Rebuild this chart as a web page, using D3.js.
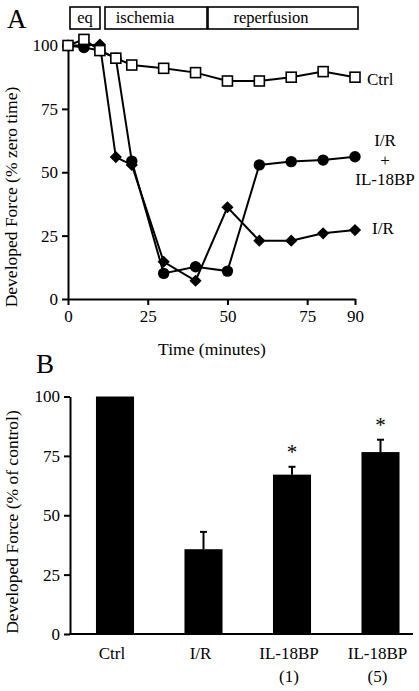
<!DOCTYPE html>
<html><head><meta charset="utf-8">
<script src="https://cdn.jsdelivr.net/npm/d3@7"></script>
<style>body{margin:0;background:#fff}svg{display:block}text{font-family:"Liberation Serif","Times New Roman",serif;fill:#000}</style>
</head><body><svg id="c" width="419" height="691"></svg>
<script>
// ---- Panel A data ----
const times = [0, 5, 10, 15, 20, 30, 40, 50, 60, 70, 80, 90];
const ctrl = [100, 102.4, 98, 95, 92.3, 91, 89.3, 86, 86, 87.5, 89.7, 87.5];
const irBP = [100, 99.2, 98, 95, 54.4, 10.1, 12.7, 11, 52.9, 54.2, 54.8, 56.1];
const ir = [100, 100, 100.4, 56, 52.9, 14.7, 7.2, 36.2, 23, 23, 25.9, 27.2];
const xTicksA = [0, 25, 50, 75, 90];
const yTicks = [0, 25, 50, 75, 100];
const phases = ["eq", "ischemia", "reperfusion"];

// ---- Panel B data ----
const groups = ["Ctrl", "I/R", "IL-18BP (1)", "IL-18BP (5)"];
const groupLines = [["Ctrl"], ["I/R"], ["IL-18BP", "(1)"], ["IL-18BP", "(5)"]];
const means = [100, 35.7, 67.1, 76.6];
const errs = [0, 7.3, 3.3, 5.2];
const signif = [false, false, true, true];

const svg = d3.select("#c");
const FS = 17;

function styleAxis(g) {
  g.select(".domain").attr("stroke-width", 2);
  g.selectAll(".tick line").attr("stroke-width", 2);
  g.selectAll("text").attr("font-size", FS).attr("font-family", "Liberation Serif");
}

// ===== Panel A =====
const xA = d3.scaleLinear().domain([0, 90]).range([68, 355]);
const yA = d3.scaleLinear().domain([0, 100]).range([299, 45.5]);
const gA = svg.append("g");

gA.append("g").attr("transform", "translate(0,299)")
  .call(d3.axisBottom(xA).tickValues(xTicksA).tickSize(6).tickPadding(5).tickSizeOuter(0))
  .call(styleAxis);
gA.append("g").attr("transform", "translate(68,0)")
  .call(d3.axisLeft(yA).tickValues(yTicks).tickSize(6).tickPadding(4).tickSizeOuter(0))
  .call(styleAxis);

gA.append("text").attr("x", 212).attr("y", 355).attr("text-anchor", "middle").attr("font-size", 17.5).text("Time (minutes)");
gA.append("text").attr("transform", "translate(17,197) rotate(-90)").attr("text-anchor", "middle").attr("font-size", 17.5).text("Developed Force (% zero time)");
gA.append("text").attr("x", 7).attr("y", 28).attr("font-size", 27).text("A");

// header boxes
const boxes = [[70, 100], [105, 207], [208, 358]];
const boxText = [85, 145, 271];
phases.forEach((p, i) => {
  gA.append("rect").attr("x", boxes[i][0]).attr("y", 7).attr("width", boxes[i][1] - boxes[i][0]).attr("height", 22)
    .attr("fill", "#fff").attr("stroke", "#000").attr("stroke-width", 1.6);
  gA.append("text").attr("x", boxText[i]).attr("y", 23).attr("text-anchor", "middle").attr("font-size", 16.5).text(p);
});

const line = d3.line().x((d, i) => xA(times[i])).y(d => yA(d));
[ir, irBP, ctrl].forEach(s => gA.append("path").attr("d", line(s)).attr("fill", "none").attr("stroke", "#000").attr("stroke-width", 2));

gA.selectAll(".dia").data(ir).join("path").attr("class", "dia")
  .attr("d", d3.symbol(d3.symbolDiamond2, 95)())
  .attr("transform", (d, i) => `translate(${xA(times[i])},${yA(d)})`).attr("fill", "#000");
gA.selectAll(".cir").data(irBP).join("circle").attr("class", "cir")
  .attr("cx", (d, i) => xA(times[i])).attr("cy", d => yA(d)).attr("r", 5.7).attr("fill", "#000");
gA.selectAll(".sq").data(ctrl).join("rect").attr("class", "sq")
  .attr("x", (d, i) => xA(times[i]) - 5).attr("y", d => yA(d) - 5).attr("width", 10).attr("height", 10)
  .attr("fill", "#fff").attr("stroke", "#000").attr("stroke-width", 1.6);

gA.append("text").attr("x", 367).attr("y", 85).attr("font-size", FS).text("Ctrl");
[["I/R", 146], ["+", 166], ["IL-18BP", 185]].forEach(([t, y]) =>
  gA.append("text").attr("x", 385).attr("y", y).attr("text-anchor", "middle").attr("font-size", FS).text(t));
gA.append("text").attr("x", 372).attr("y", 234).attr("font-size", FS).text("I/R");

// ===== Panel B =====
const xB = d3.scaleBand().domain(groups).range([70.75, 424.75]).paddingInner(0.57).paddingOuter(0.285);
const yB = d3.scaleLinear().domain([0, 100]).range([634, 396.5]);
const gB = svg.append("g");

gB.append("text").attr("x", 36).attr("y", 373).attr("font-size", 27).text("B");

gB.selectAll(".bar").data(means).join("rect").attr("class", "bar")
  .attr("x", (d, i) => xB(groups[i])).attr("width", xB.bandwidth())
  .attr("y", d => yB(d)).attr("height", d => yB(0) - yB(d)).attr("fill", "#000");

means.forEach((m, i) => {
  if (!errs[i]) return;
  const cx = xB(groups[i]) + xB.bandwidth() / 2;
  gB.append("line").attr("x1", cx).attr("x2", cx).attr("y1", yB(m)).attr("y2", yB(m + errs[i])).attr("stroke", "#000").attr("stroke-width", 2);
  gB.append("line").attr("x1", cx - 3.5).attr("x2", cx + 3.5).attr("y1", yB(m + errs[i])).attr("y2", yB(m + errs[i])).attr("stroke", "#000").attr("stroke-width", 2);
  if (signif[i]) gB.append("text").attr("x", cx).attr("y", yB(m + errs[i]) - 8).attr("text-anchor", "middle").attr("font-size", 21).text("*");
});

gB.append("g").attr("transform", "translate(70,0)")
  .call(d3.axisLeft(yB).tickValues(yTicks).tickSize(6).tickPadding(4).tickSizeOuter(0))
  .call(styleAxis);
gB.append("line").attr("x1", 69).attr("x2", 413).attr("y1", 634).attr("y2", 634).attr("stroke", "#000").attr("stroke-width", 2);

groupLines.forEach((ls, i) => {
  const cx = xB(groups[i]) + xB.bandwidth() / 2 - 3;
  ls.forEach((t, j) => gB.append("text").attr("x", cx).attr("y", 659 + j * 23).attr("text-anchor", "middle").attr("font-size", 17).text(t));
});
gB.append("text").attr("transform", "translate(18,522) rotate(-90)").attr("text-anchor", "middle").attr("font-size", 17.5).text("Developed Force (% of control)");
</script></body></html>
